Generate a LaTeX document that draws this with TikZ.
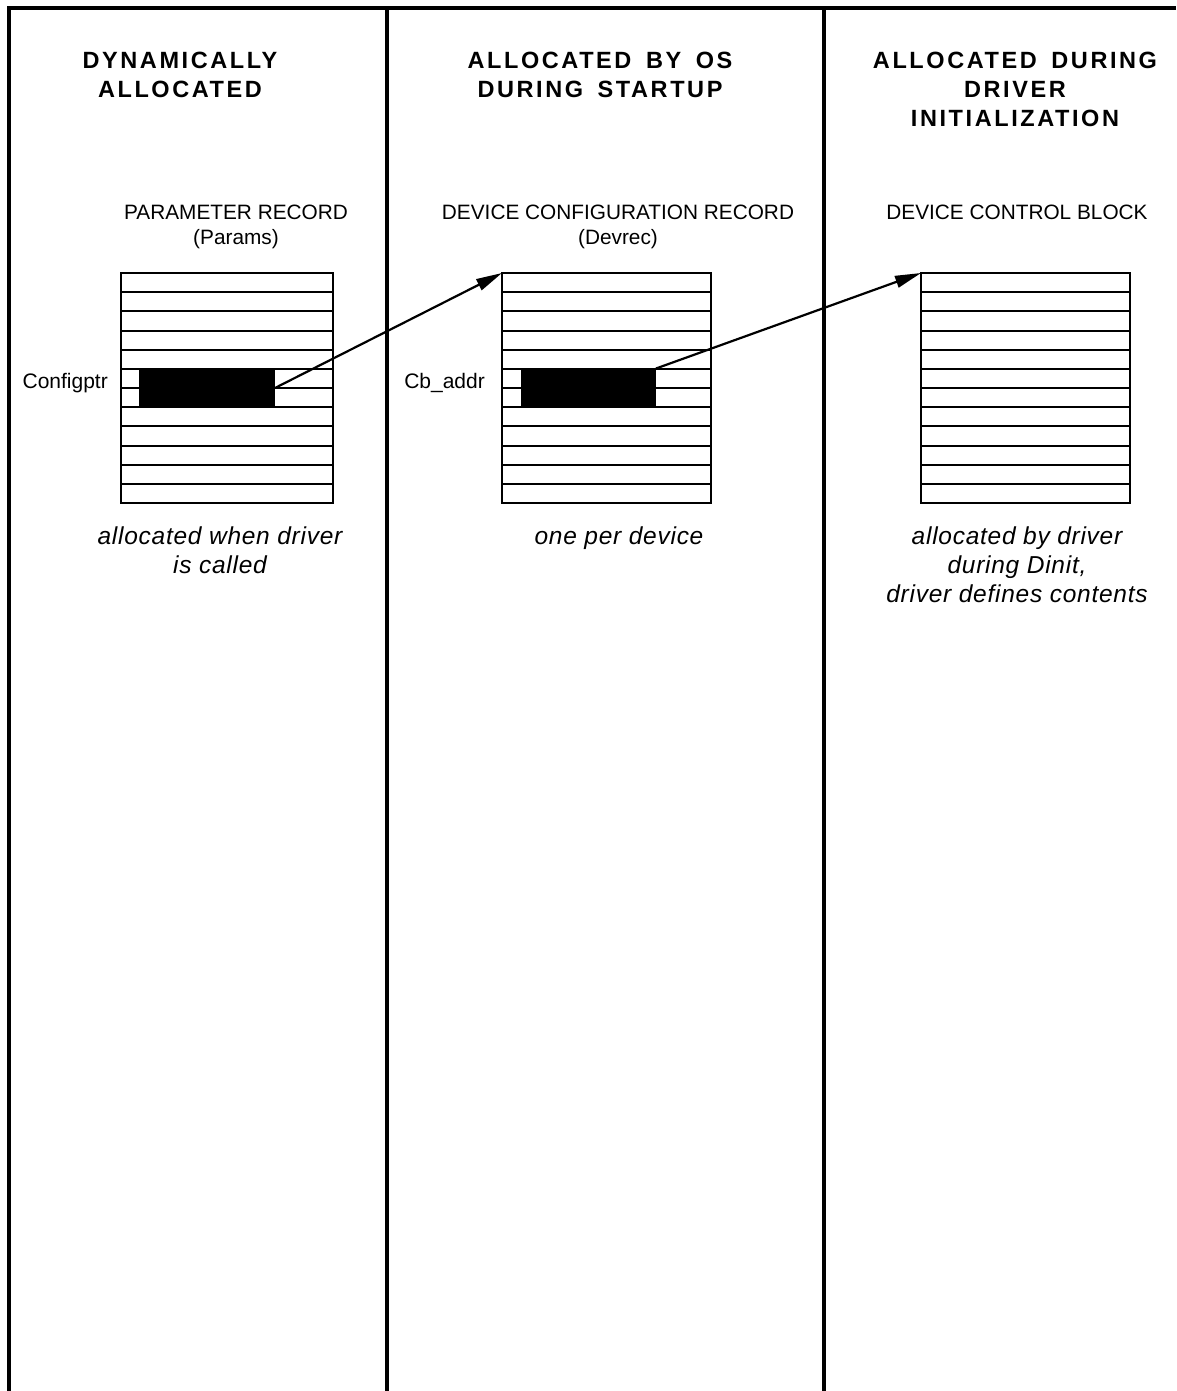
\documentclass[tikz,border=0pt]{standalone}
\usepackage{fontspec}
\setmainfont{Liberation Sans}
\newfontfamily\hdrfont{Liberation Sans}[LetterSpace=11,WordSpace=1.6]
\newfontfamily\notefont{Liberation Sans}[LetterSpace=3]
\usetikzlibrary{arrows.meta,calc}
\begin{document}
\begin{tikzpicture}[x=1pt,y=-1pt,
  divider/.style={line width=4.3pt},
  recbox/.style={draw,line width=2.5pt,inner sep=0pt,outer sep=0pt,minimum height=230pt},
  rowline/.style={line width=2pt},
  blk/.style={fill=black,draw=none,inner sep=0pt,outer sep=0pt,minimum height=39pt},
  ptr/.style={line width=2.2pt,-{Triangle[length=26pt,width=12pt]}},
  hdr/.style={font=\hdrfont\fontsize{23.5}{29}\selectfont\bfseries,align=center,anchor=north,inner sep=0pt},
  ttl/.style={font=\fontsize{20.8}{25.5}\selectfont,align=center,anchor=north,inner sep=0pt},
  note/.style={font=\notefont\fontsize{24.5}{29}\selectfont\itshape,align=center,anchor=north,inner sep=0pt},
  fld/.style={font=\fontsize{21}{25}\selectfont,anchor=north east,inner sep=0pt}
]
\useasboundingbox[fill=white] (0,0) rectangle (1176,1391);

% column frame
\draw[divider] (9,1391) -- (9,8) -- (1176,8);
\draw[divider] (387,8) -- (387,1391);
\draw[divider] (824,8) -- (824,1391);

% headers
\node[hdr] (h1) at (180,51.5) {DYNAMICALLY\\ALLOCATED};
\node[hdr] (h2) at (600,51.5) {ALLOCATED BY OS\\DURING STARTUP};
\node[hdr] (h3) at (1015,51.5) {ALLOCATED DURING\\DRIVER\\INITIALIZATION};

% titles
\node[ttl] (t1) at (236,204.7) {PARAMETER RECORD\\(Params)};
\node[ttl] (t2) at (618,204.7) {DEVICE CONFIGURATION RECORD\\(Devrec)};
\node[ttl] (t3) at (1017,204.7) {DEVICE CONTROL BLOCK};

% records
\node[recbox,minimum width=212pt] (r1) at (227,388) {};
\node[recbox,minimum width=209pt] (r2) at (606.5,388) {};
\node[recbox,minimum width=209pt] (r3) at (1025.5,388) {};
\foreach \r in {r1,r2,r3}
  \foreach \k in {1,...,11}
    \draw[rowline] ($(\r.north west)!\k/12!(\r.south west)$) -- ($(\r.north east)!\k/12!(\r.south east)$);

% pointer fields
\node[blk,minimum width=136pt] (b1) at (207,388) {};
\node[blk,minimum width=135pt] (b2) at (588.5,388) {};
\node[fld] (l1) at (108,373.5) {Configptr};
\node[fld] (l2) at (485,373.5) {Cb\_addr};

% pointers
\draw[ptr] (b1.east) -- (r2.north west);
\draw[ptr] (b2.north east) -- (r3.north west);

% notes
\node[note] (n1) at (220,527) {allocated when driver\\is called};
\node[note] (n2) at (619,527) {one per device};
\node[note] (n3) at (1017,527) {allocated by driver\\during Dinit,\\driver defines contents};
\end{tikzpicture}
\end{document}
